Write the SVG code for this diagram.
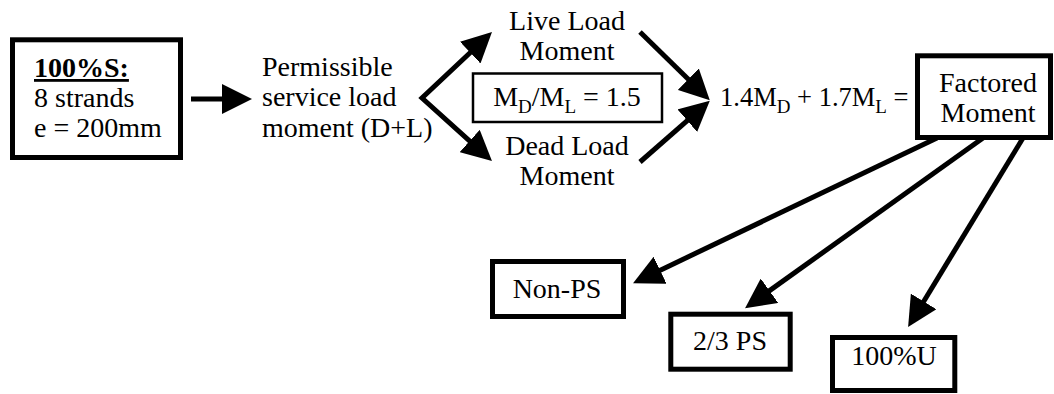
<svg xmlns="http://www.w3.org/2000/svg" width="1054" height="394" viewBox="0 0 1054 394">
<style>
text{font-family:"Liberation Serif","DejaVu Serif",serif;font-size:28px;fill:#000}
.c{text-anchor:middle}
.sub{font-size:19px}
.f{font-size:26.5px}
.box{fill:#fff;stroke:#000;stroke-width:5}
.thin{fill:#fff;stroke:#000;stroke-width:2.5}
.conn{fill:none;stroke:#000;stroke-width:5;marker-end:url(#ah)}
</style>
<defs>
<marker id="ah" viewBox="0 0 6 6" refX="1" refY="3" markerWidth="6" markerHeight="6" markerUnits="strokeWidth" orient="auto-start-reverse">
<path d="M0,0 L6,3 L0,6 z" fill="#000"/>
</marker>
</defs>
<rect width="1054" height="394" fill="#fff"/>
<g id="connectors">
<line class="conn" x1="191" y1="99" x2="227" y2="99"/>
<polyline class="conn" style="marker-start:url(#ah);stroke-linejoin:miter" points="473.8,49.2 422,98 473.4,144.3"/>
<line class="conn" x1="640" y1="32" x2="691.9" y2="82.7"/>
<line class="conn" x1="640" y1="162" x2="691" y2="117.3"/>
<line class="conn" x1="937" y1="138" x2="655.6" y2="272.4"/>
<line class="conn" x1="983" y1="138" x2="765.4" y2="293.6"/>
<line class="conn" x1="1023" y1="138" x2="921.1" y2="305.7"/>
</g>
<g id="n-100S">
<rect class="box" x="12.5" y="39.8" width="168" height="117.7"/>
<text x="34" y="77" font-weight="bold" font-size="25.5" text-decoration="underline">100%S:</text>
<text x="34" y="107">8 strands</text>
<text x="34" y="137">e = 200mm</text>
</g>
<g id="n-permissible">
<text x="262" y="76">Permissible</text>
<text x="262" y="106">service load</text>
<text x="262" y="137">moment (D+L)</text>
</g>
<g id="n-live">
<text class="c" x="567" y="30">Live Load</text>
<text class="c" x="567" y="60">Moment</text>
</g>
<g id="n-ratio">
<rect class="thin" x="473" y="73.5" width="189" height="48.5"/>
<text class="c" x="567" y="106">M<tspan class="sub" dy="7">D</tspan><tspan dy="-7">/M</tspan><tspan class="sub" dy="7">L</tspan><tspan dy="-7"> = 1.5</tspan></text>
</g>
<g id="n-dead">
<text class="c" x="567" y="155">Dead Load</text>
<text class="c" x="567" y="185">Moment</text>
</g>
<g id="n-formula">
<text class="f" x="720" y="106">1.4M<tspan class="sub" dy="7">D</tspan><tspan dy="-7"> + 1.7M</tspan><tspan class="sub" dy="7">L</tspan><tspan dy="-7"> =</tspan></text>
</g>
<g id="n-factored">
<rect class="box" x="917.5" y="55.8" width="133" height="81.7"/>
<text class="c" x="988" y="92">Factored</text>
<text class="c" x="988" y="122">Moment</text>
</g>
<g id="n-nonps">
<rect class="box" x="492.5" y="261.5" width="131" height="55"/>
<text class="c" x="557" y="298">Non-PS</text>
</g>
<g id="n-23ps">
<rect class="box" x="670.8" y="314.2" width="119.4" height="55"/>
<text class="c" x="730" y="350">2/3 PS</text>
</g>
<g id="n-100u">
<rect class="box" x="832.5" y="337.5" width="122.3" height="53"/>
<text class="c" x="894" y="365">100%U</text>
</g>
</svg>
